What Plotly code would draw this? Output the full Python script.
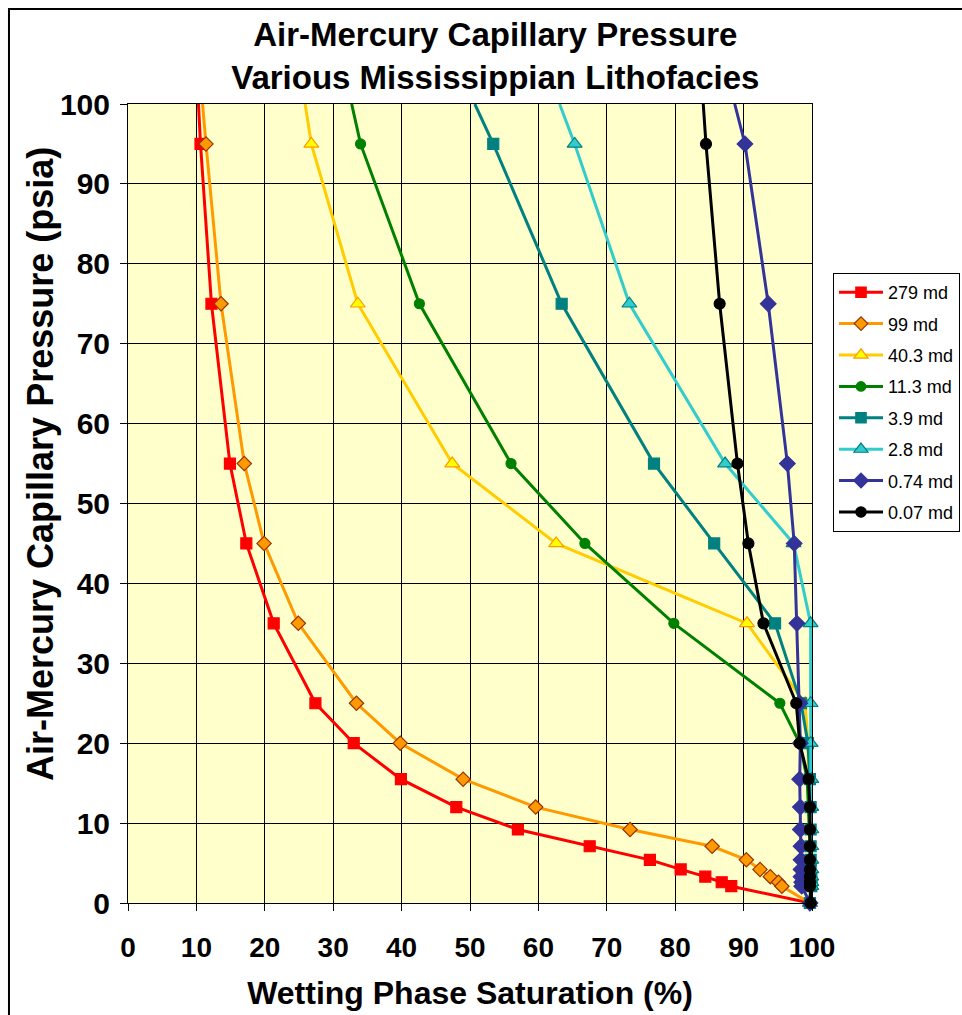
import plotly.graph_objects as go

# Injection pressure steps (psia); 100 marks where each curve leaves the top of the chart
pressure = [100, 95, 75, 55, 45, 35, 25, 20, 15.5, 12, 9.2, 7.1, 5.4, 4.2, 3.3, 2.6, 2.1, 0]

# Wetting phase saturation (%) for each lithofacies permeability
sat_279 = [10.3, 10.6, 12.2, 14.9, 17.3, 21.3, 27.4, 33.0, 39.9, 48.0, 57.0, 67.5, 76.3, 80.8, 84.4, 86.8, 88.2, 99.7]
sat_99 = [10.9, 11.4, 13.6, 17.0, 19.9, 24.9, 33.4, 39.8, 49.0, 59.6, 73.4, 85.4, 90.4, 92.4, 93.9, 95.1, 95.6, 99.7]
sat_40_3 = [25.9, 26.8, 33.6, 47.4, 62.6, 90.5, 99.0, 99.4, 99.5, 99.6, 99.7, 99.7, 99.8, 99.8, 99.8, 99.8, 99.8, 99.7]
sat_11_3 = [32.7, 34.0, 42.6, 56.0, 66.8, 79.8, 95.3, 98.2, 99.3, 99.5, 99.6, 99.7, 99.7, 99.8, 99.8, 99.8, 99.8, 99.7]
sat_3_9 = [50.7, 53.4, 63.4, 76.9, 85.7, 94.6, 98.4, 99.4, 99.7, 99.8, 99.8, 99.8, 99.8, 99.8, 99.9, 99.9, 99.9, 99.7]
sat_2_8 = [63.1, 65.3, 73.3, 87.3, 97.3, 99.8, 99.8, 99.8, 99.9, 99.9, 99.9, 99.9, 99.9, 99.9, 99.9, 99.9, 99.9, 99.7]
sat_0_74 = [88.7, 90.2, 93.6, 96.4, 97.4, 97.8, 98.2, 98.3, 98.2, 98.3, 98.3, 98.4, 98.4, 98.4, 98.4, 98.5, 98.5, 99.7]
sat_0_07 = [84.1, 84.5, 86.5, 89.1, 90.7, 92.9, 97.7, 98.2, 99.5, 99.7, 99.7, 99.7, 99.7, 99.7, 99.7, 99.7, 99.7, 99.8]

series_names = ["279 md", "99 md", "40.3 md", "11.3 md", "3.9 md", "2.8 md", "0.74 md", "0.07 md"]
series_values = [sat_279, sat_99, sat_40_3, sat_11_3, sat_3_9, sat_2_8, sat_0_74, sat_0_07]

# Line colour, marker symbol, marker fill, marker outline, marker size
styles = [
    ("#FF0000", "square", "#FF0000", "#FF0000", 11),
    ("#FF9900", "diamond", "#FF9900", "#993300", 11),
    ("#FFCC00", "triangle-up", "#FFFF00", "#FF9900", 13),
    ("#008000", "circle", "#008000", "#008000", 10),
    ("#008080", "square", "#008080", "#008080", 11),
    ("#33CCCC", "triangle-up", "#33CCCC", "#008080", 13),
    ("#333399", "diamond", "#333399", "#333399", 12),
    ("#000000", "circle", "#000000", "#000000", 11),
]

FONT = "Arial, Liberation Sans, sans-serif"

fig = go.Figure()
for name, sat, (lc, sym, fc, oc, ms) in zip(series_names, series_values, styles):
    sizes = [0 if p >= 100 else ms for p in pressure]
    fig.add_trace(go.Scatter(
        x=sat, y=pressure, name=name, legendgroup=name,
        mode="lines+markers",
        line=dict(color=lc, width=3),
        marker=dict(symbol=sym, size=sizes, color=fc, opacity=1,
                    line=dict(color=oc, width=1.2)),
        cliponaxis=False,
        hoverinfo="skip",
    ))

axis_common = dict(
    range=[0, 100], dtick=10, tick0=0,
    showgrid=True, gridcolor="#000000", gridwidth=1,
    showline=True, linecolor="#000000", linewidth=1, mirror=True,
    ticks="outside", ticklen=7, tickcolor="#000000",
    zeroline=False, fixedrange=True,
)

fig.update_xaxes(
    **axis_common,
    tickfont=dict(family=FONT, size=28, color="#000000", weight="bold"),
    ticklabelstandoff=12,
    title=dict(text="Wetting Phase Saturation (%)", standoff=20,
               font=dict(family=FONT, size=32, color="#000000", weight="bold")),
)
fig.update_yaxes(
    **axis_common,
    tickfont=dict(family=FONT, size=30, color="#000000", weight="bold"),
    ticklabelstandoff=4,
)

fig.update_layout(
    width=962, height=1015,
    margin=dict(l=128, r=150, t=104, b=112, autoexpand=False),
    paper_bgcolor="#FFFFFF",
    plot_bgcolor="#FFFFCC",
    title=dict(
        text="Air-Mercury Capillary Pressure<br>Various Mississippian Lithofacies",
        x=0.537, xref="paper", xanchor="center",
        y=0.955, yref="container", yanchor="middle",
        font=dict(family=FONT, size=33, color="#000000", weight="bold"),
    ),
    legend=dict(
        x=1.0307, y=0.7885, xanchor="left", yanchor="top",
        bgcolor="#FFFFFF", bordercolor="#000000", borderwidth=1,
        font=dict(family=FONT, size=18, color="#000000"),
        tracegroupgap=5, traceorder="grouped", itemwidth=44,
    ),
    showlegend=True,
    annotations=[dict(
        text="Air-Mercury Capillary Pressure (psia)",
        xref="paper", yref="paper", x=-0.1287, y=0.5494,
        xanchor="center", yanchor="middle", textangle=-90, showarrow=False,
        font=dict(family=FONT, size=36, color="#000000", weight="bold"),
    )],
    shapes=[dict(
        type="rect", xref="paper", yref="paper",
        x0=-0.174, x1=1.25, y0=-0.16, y1=1.119,
        line=dict(color="#000000", width=2), fillcolor="rgba(0,0,0,0)",
        layer="below",
    )],
)

fig.write_html("out.html")
